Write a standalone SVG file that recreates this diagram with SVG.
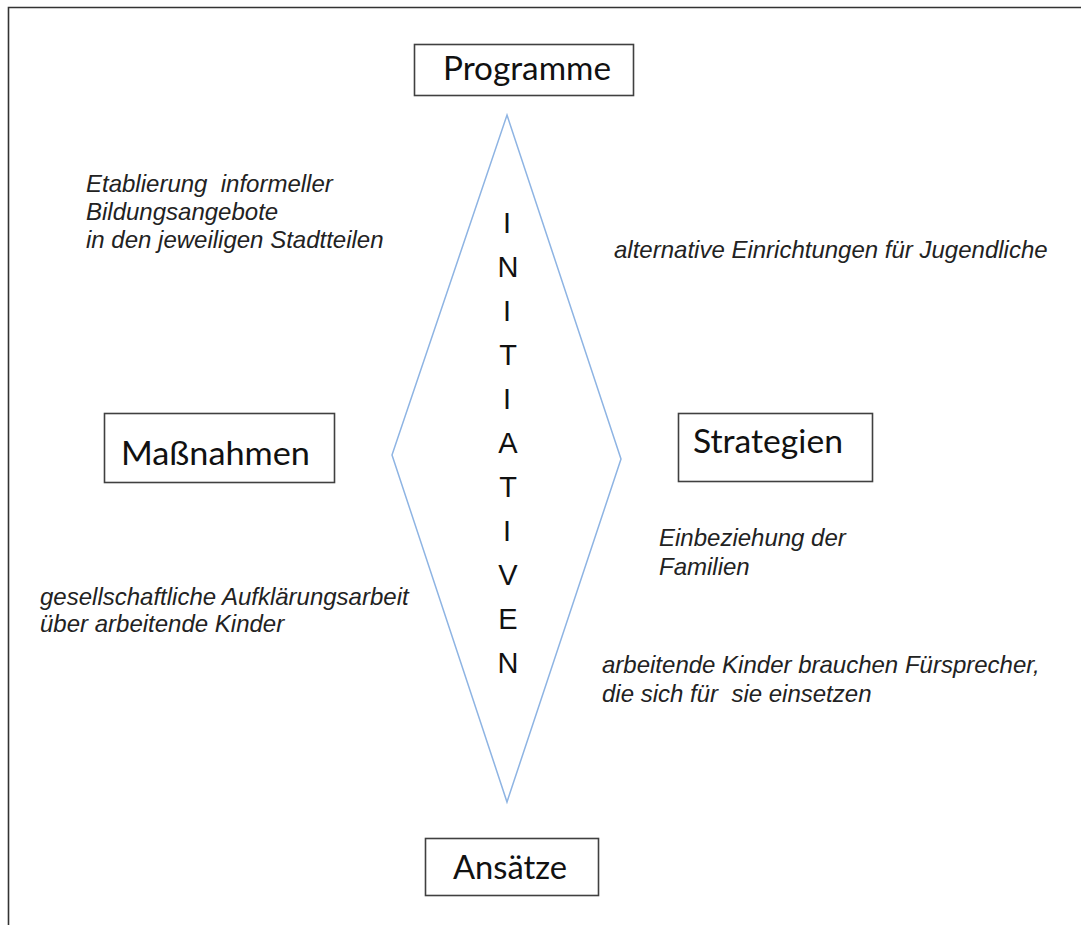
<svg xmlns="http://www.w3.org/2000/svg" width="1081" height="925" viewBox="0 0 1081 925">
<style>
.box{fill:#fff;stroke:#404040;stroke-width:1.6}
.lbl{font-family:Lato,"Open Sans",sans-serif;font-size:32px;fill:#111}
.it{font-family:"Liberation Sans",Arial,sans-serif;font-style:italic;font-size:24px;fill:#222;white-space:pre}
.vl{font-family:"Liberation Sans",Arial,sans-serif;font-size:29px;fill:#111;text-anchor:middle}
</style>
<rect width="1081" height="925" fill="#fff"/>
<path d="M8.5 925 V7.5 H1081" fill="none" stroke="#333" stroke-width="1.6"/>
<g id="connectors">
<polygon id="diamond" points="507,115 621,459 507,802 392,455" fill="none" stroke="#8eb4e3" stroke-width="1.5"/>
</g>
<g id="initiativen">
<text class="vl" x="507" y="233">I</text>
<text class="vl" x="508" y="277">N</text>
<text class="vl" x="507" y="321">I</text>
<text class="vl" x="508" y="365">T</text>
<text class="vl" x="507" y="409">I</text>
<text class="vl" x="508" y="453">A</text>
<text class="vl" x="508" y="497">T</text>
<text class="vl" x="507" y="541">I</text>
<text class="vl" x="508" y="585">V</text>
<text class="vl" x="508" y="629">E</text>
<text class="vl" x="508" y="673">N</text>
</g>
<g id="programme">
<rect class="box" x="414.5" y="44.5" width="219" height="51"/>
<text class="lbl" x="443" y="80" textLength="168" lengthAdjust="spacingAndGlyphs">Programme</text>
</g>
<g id="massnahmen">
<rect class="box" x="104.5" y="413.5" width="230" height="69"/>
<text class="lbl" x="121" y="465" textLength="189" lengthAdjust="spacingAndGlyphs">Maßnahmen</text>
</g>
<g id="strategien">
<rect class="box" x="678.5" y="413.5" width="194" height="68"/>
<text class="lbl" x="693" y="453" textLength="150" lengthAdjust="spacingAndGlyphs">Strategien</text>
</g>
<g id="ansaetze">
<rect class="box" x="425.5" y="838.5" width="173" height="57"/>
<text class="lbl" x="453" y="879" textLength="114" lengthAdjust="spacingAndGlyphs">Ansätze</text>
</g>
<g id="notes">
<text class="it" x="86" y="192" xml:space="preserve">Etablierung  informeller</text>
<text class="it" x="86" y="220">Bildungsangebote</text>
<text class="it" x="86" y="248">in den jeweiligen Stadtteilen</text>
<text class="it" x="614" y="258">alternative Einrichtungen für Jugendliche</text>
<text class="it" x="40" y="605">gesellschaftliche Aufklärungsarbeit</text>
<text class="it" x="40" y="632">über arbeitende Kinder</text>
<text class="it" x="659" y="546">Einbeziehung der</text>
<text class="it" x="659" y="575">Familien</text>
<text class="it" x="602" y="673">arbeitende Kinder brauchen Fürsprecher,</text>
<text class="it" x="602" y="702" xml:space="preserve">die sich für  sie einsetzen</text>
</g>
</svg>
